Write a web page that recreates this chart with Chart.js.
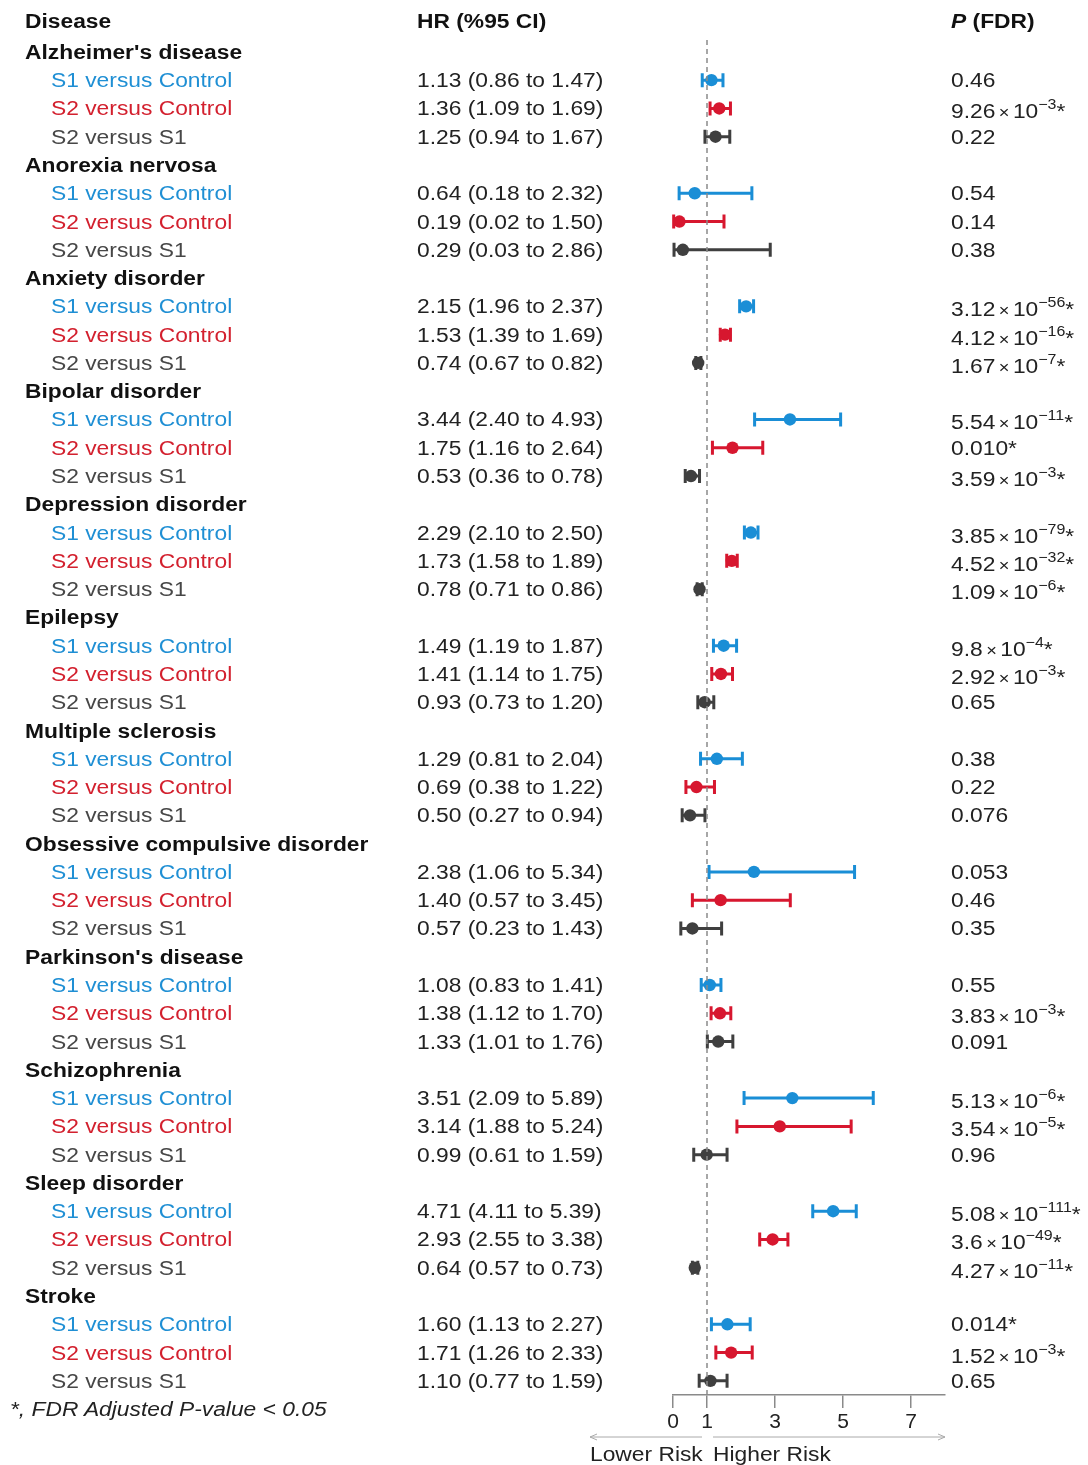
<!DOCTYPE html>
<html>
<head>
<meta charset="utf-8">
<title>Forest plot</title>
<script src="https://cdn.jsdelivr.net/npm/chart.js@4.4.1/dist/chart.umd.min.js"></script>
<style>
  html, body { margin: 0; padding: 0; background: #fff; }
  #wrap { position: relative; width: 1088px; height: 1465px; overflow: hidden; }
  #forest { position: absolute; left: 0; top: 0; }
  .lbl {
    position: absolute;
    white-space: nowrap;
    font-family: "Liberation Sans", Arial, sans-serif;
    font-size: 20px;
    line-height: 24px;
    color: #222;
    transform: translateY(-50%) scaleX(1.14);
    transform-origin: 0 50%;
  }
  .bold { font-weight: bold; color: #111; }
  .c0 { color: #1f8fd4; }
  .c1 { color: #d3202e; }
  .c2 { color: #474747; }
  .times { font-size: 16px; margin: 0 3px; }
  .sup { font-size: 14px; position: relative; top: -9px; }
</style>
</head>
<body>
<div id="wrap">
  <canvas id="forest" width="1088" height="1465"></canvas>
</div>
<script>
const diseases = [
  "Alzheimer's disease", 'Anorexia nervosa', 'Anxiety disorder', 'Bipolar disorder',
  'Depression disorder', 'Epilepsy', 'Multiple sclerosis', 'Obsessive compulsive disorder',
  "Parkinson's disease", 'Schizophrenia', 'Sleep disorder', 'Stroke'
];
const comparisons = ['S1 versus Control', 'S2 versus Control', 'S2 versus S1'];
const compColors = ['#1a8ed6', '#d7172f', '#3f3f3f'];

const hrS1vC = [1.13, 0.64, 2.15, 3.44, 2.29, 1.49, 1.29, 2.38, 1.08, 3.51, 4.71, 1.60];
const loS1vC = [0.86, 0.18, 1.96, 2.40, 2.10, 1.19, 0.81, 1.06, 0.83, 2.09, 4.11, 1.13];
const hiS1vC = [1.47, 2.32, 2.37, 4.93, 2.50, 1.87, 2.04, 5.34, 1.41, 5.89, 5.39, 2.27];
const pS1vC = ['0.46', '0.54', '3.12e-56*', '5.54e-11*', '3.85e-79*', '9.8e-4*', '0.38', '0.053', '0.55', '5.13e-6*', '5.08e-111*', '0.014*'];

const hrS2vC = [1.36, 0.19, 1.53, 1.75, 1.73, 1.41, 0.69, 1.40, 1.38, 3.14, 2.93, 1.71];
const loS2vC = [1.09, 0.02, 1.39, 1.16, 1.58, 1.14, 0.38, 0.57, 1.12, 1.88, 2.55, 1.26];
const hiS2vC = [1.69, 1.50, 1.69, 2.64, 1.89, 1.75, 1.22, 3.45, 1.70, 5.24, 3.38, 2.33];
const pS2vC = ['9.26e-3*', '0.14', '4.12e-16*', '0.010*', '4.52e-32*', '2.92e-3*', '0.22', '0.46', '3.83e-3*', '3.54e-5*', '3.6e-49*', '1.52e-3*'];

const hrS2vS1 = [1.25, 0.29, 0.74, 0.53, 0.78, 0.93, 0.50, 0.57, 1.33, 0.99, 0.64, 1.10];
const loS2vS1 = [0.94, 0.03, 0.67, 0.36, 0.71, 0.73, 0.27, 0.23, 1.01, 0.61, 0.57, 0.77];
const hiS2vS1 = [1.67, 2.86, 0.82, 0.78, 0.86, 1.20, 0.94, 1.43, 1.76, 1.59, 0.73, 1.59];
const pS2vS1 = ['0.22', '0.38', '1.67e-7*', '3.59e-3*', '1.09e-6*', '0.65', '0.076', '0.35', '0.091', '0.96', '4.27e-11*', '0.65'];

const xTicks = [0, 1, 3, 5, 7];

const hrAll = [hrS1vC, hrS2vC, hrS2vS1];
const loAll = [loS1vC, loS2vC, loS2vS1];
const hiAll = [hiS1vC, hiS2vC, hiS2vS1];
const pAll = [pS1vC, pS2vC, pS2vS1];

// row 0 = first disease header, each disease takes 4 rows
const rowOf = (d, c) => d * 4 + 1 + c;

const FONT = '"Liberation Sans", Arial, sans-serif';

const compDatasets = comparisons.map((name, c) => ({
  label: name,
  data: hrAll[c].map((v, d) => ({ x: v, y: rowOf(d, c) })),
  ciLow: loAll[c],
  ciHigh: hiAll[c],
  backgroundColor: compColors[c],
  borderColor: compColors[c],
  pointRadius: 6.2,
  pointBorderWidth: 0
}));

const refLine = {
  label: 'ref',
  data: [{ x: 1, y: -0.42 }, { x: 1, y: 47.5 }],
  showLine: true,
  borderColor: '#8a8a8a',
  borderWidth: 1.5,
  borderDash: [5, 4],
  pointRadius: 0
};

const ciPlugin = {
  id: 'ciBars',
  beforeDatasetsDraw(chart) {
    const ctx = chart.ctx;
    const xs = chart.scales.x, ys = chart.scales.y;
    ctx.save();
    ctx.lineWidth = 3;
    chart.data.datasets.forEach(ds => {
      if (!ds.ciLow) return;
      ctx.strokeStyle = ds.borderColor;
      ds.data.forEach((pt, i) => {
        const y = ys.getPixelForValue(pt.y);
        const x0 = xs.getPixelForValue(ds.ciLow[i]);
        const x1 = xs.getPixelForValue(ds.ciHigh[i]);
        ctx.beginPath();
        ctx.moveTo(x0, y); ctx.lineTo(x1, y);
        ctx.moveTo(x0, y - 7); ctx.lineTo(x0, y + 7);
        ctx.moveTo(x1, y - 7); ctx.lineTo(x1, y + 7);
        ctx.stroke();
      });
    });
    ctx.restore();
  },
  afterDraw(chart) {
    // risk direction arrows under the axis
    const ctx = chart.ctx;
    const xs = chart.scales.x;
    const area = chart.chartArea;
    const x1 = xs.getPixelForValue(1);
    const y = area.bottom + 42;
    ctx.save();
    ctx.strokeStyle = '#aaaaaa';
    ctx.lineWidth = 1;
    const arrow = (from, to) => {
      const dir = Math.sign(to - from);
      ctx.beginPath();
      ctx.moveTo(from, y); ctx.lineTo(to, y);
      ctx.moveTo(to - dir * 7, y - 3); ctx.lineTo(to, y); ctx.lineTo(to - dir * 7, y + 3);
      ctx.stroke();
    };
    arrow(x1 - 5, x1 - 117);
    arrow(x1 + 6, area.right);
    ctx.restore();
  }
};

const chart = new Chart(document.getElementById('forest'), {
  type: 'scatter',
  data: { datasets: [refLine, ...compDatasets] },
  options: {
    responsive: false,
    animation: false,
    devicePixelRatio: 1,
    layout: { padding: { left: 673, right: 143, top: 40, bottom: 0 } },
    plugins: { legend: { display: false }, tooltip: { enabled: false } },
    scales: {
      x: {
        type: 'linear',
        min: 0,
        max: 8,
        afterBuildTicks: s => { s.ticks = xTicks.map(v => ({ value: v })); },
        afterFit: s => { s.height = 70; },
        grid: { drawOnChartArea: false, drawTicks: true, tickLength: 13, color: '#8a8a8a', lineWidth: 1.5 },
        border: { display: true, color: '#8a8a8a', width: 1.5 },
        ticks: { font: { family: FONT, size: 21 }, color: '#222', padding: 2 }
      },
      y: { type: 'linear', display: false, reverse: true, min: -0.42, max: 47.5 }
    }
  },
  plugins: [ciPlugin]
});

// text columns, placed on the chart's own y scale
const wrap = document.getElementById('wrap');
const ys = chart.scales.y, xs = chart.scales.x;
function addLabel(html, x, y, cls) {
  const el = document.createElement('div');
  el.className = 'lbl ' + (cls || '');
  el.innerHTML = html;
  el.style.left = x + 'px';
  el.style.top = y + 'px';
  wrap.appendChild(el);
  return el;
}
function pHtml(p) {
  const star = p.endsWith('*') ? '*' : '';
  const body = star ? p.slice(0, -1) : p;
  if (body.includes('e')) {
    const [m, e] = body.split('e');
    return { html: m + '<span class="times">×</span>10<span class="sup">' + e.replace('-', '−') + '</span>' + star, exp: true };
  }
  return { html: body + star, exp: false };
}

const hdrY = ys.getPixelForValue(-1.1);
addLabel('Disease', 25, hdrY, 'bold');
addLabel('HR (%95 CI)', 417, hdrY, 'bold');
addLabel('<i>P</i> (FDR)', 951, hdrY, 'bold');

diseases.forEach((name, d) => {
  addLabel(name, 25, ys.getPixelForValue(d * 4), 'bold');
  comparisons.forEach((comp, c) => {
    const y = ys.getPixelForValue(rowOf(d, c));
    addLabel(comp, 51, y, 'c' + c);
    const hr = hrAll[c][d], lo = loAll[c][d], hi = hiAll[c][d];
    addLabel(hr.toFixed(2) + ' (' + lo.toFixed(2) + ' to ' + hi.toFixed(2) + ')', 417, y);
    const p = pHtml(pAll[c][d]);
    addLabel(p.html, 951, p.exp ? y + 4 : y);
  });
});

addLabel('<i>*, FDR Adjusted P-value &lt; 0.05</i>', 10, ys.getPixelForValue(48.0));
const x1 = xs.getPixelForValue(1);
addLabel('Lower Risk', x1 - 117, chart.chartArea.bottom + 59);
addLabel('Higher Risk', x1 + 6, chart.chartArea.bottom + 59);
</script>
</body>
</html>
